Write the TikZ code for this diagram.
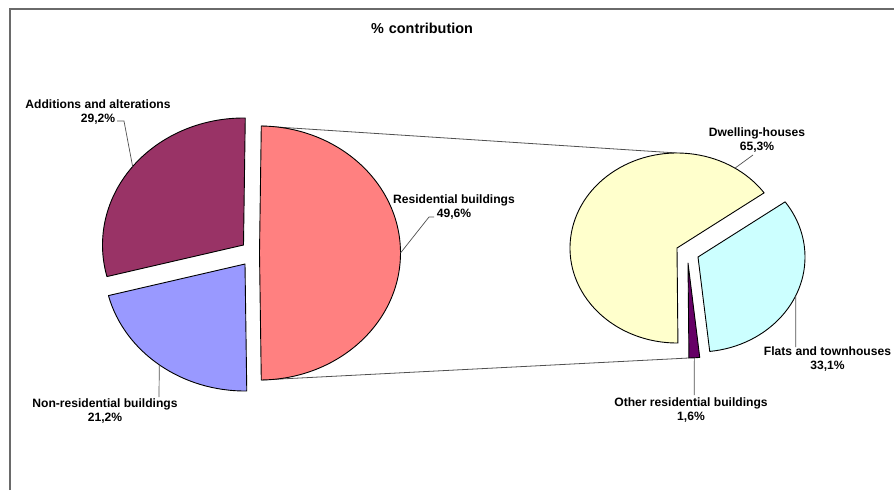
\documentclass[tikz,border=0pt]{standalone}
\usepackage{fontspec}
\setmainfont{Liberation Sans}
\definecolor{addc}{HTML}{993366}
\definecolor{nonc}{HTML}{9999FF}
\definecolor{resc}{HTML}{FF8080}
\definecolor{dwc}{HTML}{FFFFCC}
\definecolor{flc}{HTML}{CCFFFF}
\definecolor{otc}{HTML}{660066}
\definecolor{leadc}{HTML}{505050}
\definecolor{framec}{HTML}{6A6A6A}
\begin{document}
\begin{tikzpicture}[x=1pt,y=-1pt,
  slice/.style={draw=black, line width=0.9pt, line join=round},
  lbl/.style={align=center, font=\fontsize{12.1}{14}\selectfont\bfseries, inner sep=0pt},
  leader/.style={draw=leadc, line width=0.7pt},
  conn/.style={draw=leadc, line width=0.8pt},
  frame/.style={draw=framec, line width=1.4pt}]
\useasboundingbox (0,0) rectangle (894,490);
\draw[frame] (10,490) -- (10,9) -- (894,9);

% centres
\coordinate (pc) at (259.5,253);
\coordinate (mc) at (243.5,245);
\coordinate (bc) at (245,264);
\coordinate (yc) at (677,248);
\coordinate (uc) at (688,263);
\coordinate (cc) at (698,257);

% connectors between the pies
\path (pc) ++(-89.28:141 and 127) coordinate (ptop);
\path (pc) ++(89.28:141 and 127) coordinate (pbot);
\path (yc) ++(-90:107 and 95) coordinate (ytop);
\path (uc) ++(-270.5:107 and 95) coordinate (ubot);
\draw[conn] (ptop) -- (ytop);
\draw[conn] (pbot) -- (ubot);

% left pie
\path[slice, fill=resc] (pc) -- ++(-89.28:141 and 127)
  arc[start angle=-89.28, end angle=89.28, x radius=141, y radius=127] -- cycle;
\path[slice, fill=addc] (mc) -- ++(-89.28:141 and 127)
  arc[start angle=-89.28, end angle=-194.4, x radius=141, y radius=127] -- cycle;
\path[slice, fill=nonc] (bc) -- ++(-194.4:141 and 127)
  arc[start angle=-194.4, end angle=-270.72, x radius=141, y radius=127] -- cycle;

% right pie
\path[slice, fill=dwc] (yc) -- ++(-35.5:107 and 95)
  arc[start angle=-35.5, end angle=-270.5, x radius=107, y radius=95] -- cycle;
\path[slice, fill=otc] (uc) -- ++(-270.5:107 and 95)
  arc[start angle=-270.5, end angle=-276.3, x radius=107, y radius=95] -- cycle;
\path[slice, fill=flc] (cc) -- ++(-276.3:107 and 95)
  arc[start angle=-276.3, end angle=-395.5, x radius=107, y radius=95] -- cycle;

% title
\node[font=\fontsize{14.4}{16}\selectfont\bfseries, inner sep=0pt] (title) at (422,28) {\%\hspace{5pt}contribution};

% labels
\node[lbl] (addL) at (98,112) {Additions and alterations\\29,2\%};
\node[lbl] (resL) at (454,207) {Residential buildings\\49,6\%};
\node[lbl] (nonL) at (105,411) {Non-residential buildings\\21,2\%};
\node[lbl] (dwL) at (757,140) {Dwelling-houses\\65,3\%};
\node[lbl] (flL) at (827.5,359) {Flats and townhouses\\33,1\%};
\node[lbl] (otL) at (691,410) {Other residential buildings\\1,6\%};

% leader lines
\path (mc) ++(-141.84:141 and 127) coordinate (addE);
\path (pc) ++(0:141 and 127) coordinate (resE);
\path (bc) ++(-232.56:141 and 127) coordinate (nonE);
\path (yc) ++(-57.2:107 and 95) coordinate (dwE);
\path (cc) ++(-335.9:107 and 95) coordinate (flE);
\path (uc) ++(-273.4:107 and 95) coordinate (otE);
\coordinate (addA) at (117,121);
\coordinate (addB) at (124,121);
\coordinate (resA) at (434,217);
\coordinate (resB) at (429,217);
\coordinate (nonA) at (159,397);
\coordinate (dwA) at (753,155);
\coordinate (flA) at (795.7,347);
\coordinate (otA) at (694.3,395);
\draw[leader] (addA) -- (addB) -- (addE);
\draw[leader] (resA) -- (resB) -- (resE);
\draw[leader] (nonA) -- (nonE);
\draw[leader] (dwA) -- (dwE);
\draw[leader] (flA) -- (flE);
\draw[leader] (otA) -- (otE);
\end{tikzpicture}
\end{document}
